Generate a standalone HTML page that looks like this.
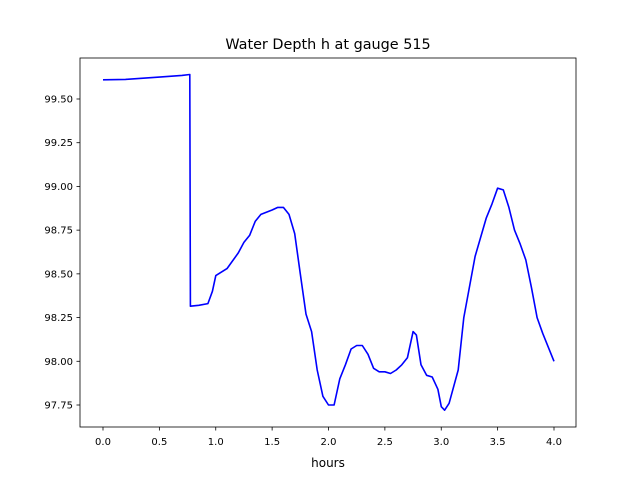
<!DOCTYPE html>
<html><head><meta charset="utf-8"><style>body{margin:0;background:#fff}svg{display:block;font-family:"DejaVu Sans","Liberation Sans",sans-serif}</style></head>
<body>
<svg id="chart" width="640" height="480" viewBox="0 0 640 480">
<rect width="640" height="480" fill="#fff"/>
<text x="328" y="49" font-size="14.4" text-anchor="middle">Water Depth h at gauge 515</text>
<g id="ticks"></g>
<polyline id="series" fill="none" stroke="#0000ff" stroke-width="1.6" stroke-linejoin="round"/>
<rect x="80" y="58" width="496" height="369" fill="none" stroke="#000" stroke-width="0.8"/>
<text x="328" y="467" font-size="12" text-anchor="middle">hours</text>
</svg>
<script>
const xs=[0,0.2,0.5,0.7,0.77,0.775,0.85,0.93,0.97,1.0,1.05,1.1,1.2,1.25,1.3,1.35,1.4,1.5,1.55,1.6,1.65,1.7,1.75,1.8,1.85,1.9,1.95,2.0,2.05,2.1,2.15,2.2,2.25,2.3,2.35,2.4,2.45,2.5,2.55,2.6,2.65,2.7,2.75,2.78,2.82,2.87,2.92,2.97,3.0,3.03,3.07,3.15,3.2,3.3,3.4,3.45,3.5,3.55,3.6,3.65,3.7,3.75,3.8,3.85,3.9,4.0];
const ys=[99.61,99.612,99.625,99.635,99.64,98.315,98.32,98.33,98.4,98.49,98.51,98.53,98.62,98.68,98.72,98.8,98.84,98.865,98.88,98.88,98.84,98.73,98.5,98.27,98.17,97.95,97.8,97.75,97.75,97.9,97.98,98.07,98.09,98.09,98.04,97.96,97.94,97.94,97.93,97.95,97.98,98.02,98.17,98.15,97.98,97.92,97.91,97.84,97.74,97.72,97.76,97.95,98.25,98.6,98.82,98.9,98.99,98.98,98.88,98.75,98.67,98.58,98.42,98.25,98.16,98.0];
const xTicks=[0,0.5,1,1.5,2,2.5,3,3.5,4];
const xTickLabels=["0.0","0.5","1.0","1.5","2.0","2.5","3.0","3.5","4.0"];
const yTicks=[97.75,98,98.25,98.5,98.75,99,99.25,99.5];
const yTickLabels=["97.75","98.00","98.25","98.50","98.75","99.00","99.25","99.50"];
const X=v=>103+(v-0)*112.75;
const Y=v=>405-(v-97.75)*174.86;
const NS="http://www.w3.org/2000/svg";
const g=document.getElementById('ticks');
function mk(t,a){const e=document.createElementNS(NS,t);for(const k in a)e.setAttribute(k,a[k]);g.appendChild(e);return e;}
xTicks.forEach((v,i)=>{
 const l=mk('line',{x1:X(v),x2:X(v),y1:427,y2:430.5,stroke:'#000','stroke-width':0.8});
 
 
 const t=mk('text',{x:X(v),y:445,'font-size':10,'text-anchor':'middle'});t.textContent=xTickLabels[i];
 
 
});
yTicks.forEach((v,i)=>{
 const l=mk('line',{x1:76.5,x2:80,y1:Y(v),y2:Y(v),stroke:'#000','stroke-width':0.8});
 
 
 const t=mk('text',{x:73,y:Y(v)+3.5,'font-size':10,'text-anchor':'end'});t.textContent=yTickLabels[i];
 
 
});
document.getElementById('series').setAttribute('points',xs.map((x,i)=>X(x).toFixed(1)+','+Y(ys[i]).toFixed(1)).join(' '));
</script>
</body></html>
